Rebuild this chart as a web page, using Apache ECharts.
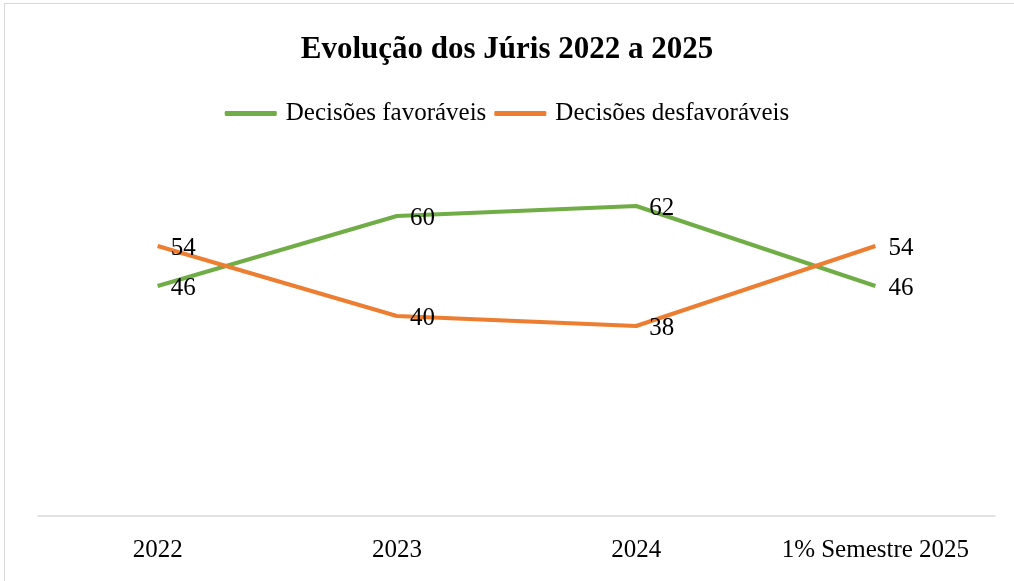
<!DOCTYPE html>
<html>
<head>
<meta charset="utf-8">
<script src="https://cdn.jsdelivr.net/npm/echarts@6/dist/echarts.min.js"></script>
<style>
    html, body { margin: 0; padding: 0; background: #fff; }
    .frame { position: absolute; left: 4px; top: 3px; width: 1020px; height: 590px; border: 1px solid #d9d9d9; box-sizing: border-box; }
    #chart { position: absolute; left: 0; top: 0; width: 1014px; height: 581px; }
</style>
</head>
<body>
<div class="frame"></div>
<div id="chart"></div>
<script>
const categories = ['2022', '2023', '2024', '1% Semestre 2025']
const favoraveis = [46, 60, 62, 46]
const desfavoraveis = [54, 40, 38, 54]

const serif = '"Liberation Serif", "Times New Roman", serif'
const green = '#70AD47'
const orange = '#ED7D31'

function lineSeries(name, data, color) {
    return {
        name: name,
        type: 'line',
        data: data,
        symbol: 'circle',
        symbolSize: 2,
        showSymbol: true,
        itemStyle: { color: 'rgba(0,0,0,0)', borderWidth: 0 },
        lineStyle: { width: 4, color: color },
        label: {
            show: true,
            position: 'right',
            distance: 12,
            offset: [0, 2],
            fontFamily: serif,
            fontSize: 25,
            color: '#000'
        }
    }
}

const myChart = echarts.init(document.getElementById('chart'))
const option = {
    backgroundColor: 'transparent',
    title: {
        text: 'Evolução dos Júris 2022 a 2025',
        left: 'center',
        top: 29,
        textStyle: {
            fontFamily: serif,
            fontSize: 31,
            fontWeight: 'bold',
            color: '#000'
        }
    },
    legend: {
        top: 96,
        left: 'center',
        itemWidth: 52,
        itemHeight: 5,
        itemGap: 8,
        icon: 'roundRect',
        textStyle: {
            fontFamily: serif,
            fontSize: 25,
            color: '#000',
            padding: [0, 0, 0, 4]
        },
        data: [
            { name: 'Decisões favoráveis', itemStyle: { color: green } },
            { name: 'Decisões desfavoráveis', itemStyle: { color: orange } }
        ]
    },
    grid: {
        left: 38,
        right: 19,
        top: 116,
        bottom: 65
    },
    xAxis: {
        type: 'category',
        data: categories,
        boundaryGap: true,
        axisTick: { show: false },
        axisLine: {
            lineStyle: { color: '#d9d9d9', width: 1.5 }
        },
        axisLabel: {
            interval: 0,
            margin: 22,
            fontFamily: serif,
            fontSize: 25,
            color: '#000'
        }
    },
    yAxis: {
        type: 'value',
        min: 0,
        max: 80,
        show: false,
        splitLine: { show: false }
    },
    series: [
        lineSeries('Decisões favoráveis', favoraveis, green),
        lineSeries('Decisões desfavoráveis', desfavoraveis, orange)
    ]
}
myChart.setOption(option)
</script>
</body>
</html>
